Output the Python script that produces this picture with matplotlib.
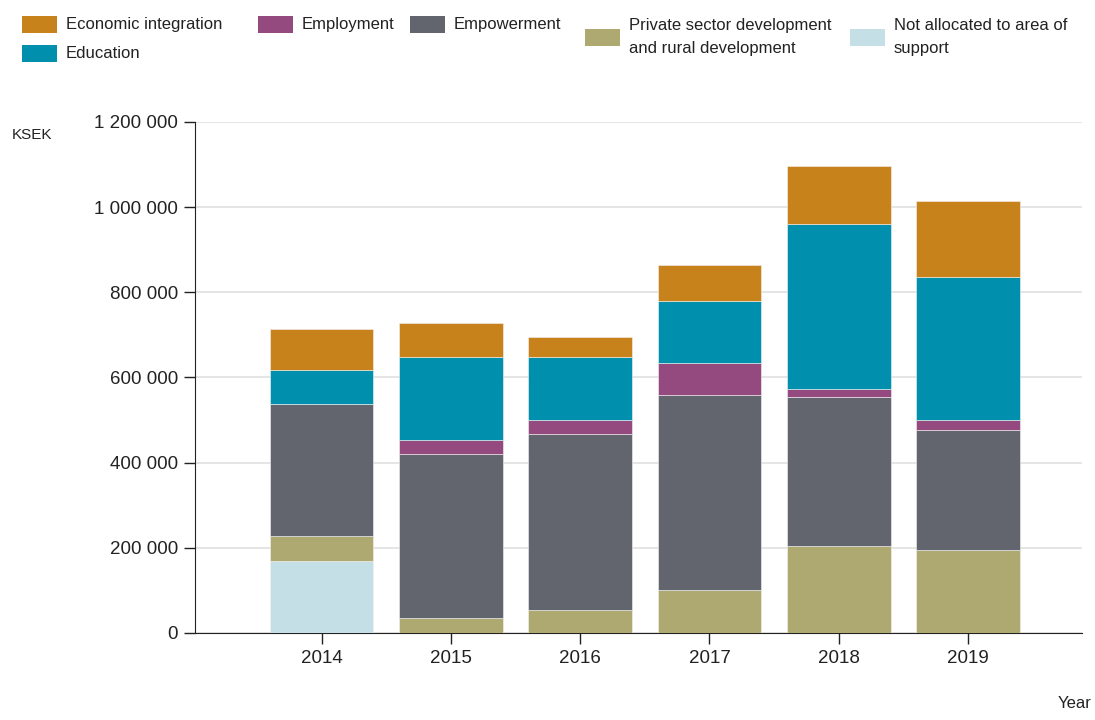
import matplotlib
matplotlib.use('Agg')
import matplotlib.pyplot as plt
from matplotlib.ticker import FuncFormatter, FixedLocator
from matplotlib.patches import Rectangle
import numpy as np

plt.rcParams['font.family'] = ['Liberation Sans', 'DejaVu Sans']

years = ['2014', '2015', '2016', '2017', '2018', '2019']

# values in KSEK, stacked bottom to top
not_allocated = [170000, 0, 0, 0, 0, 0]
private_rural = [57000, 35000, 53000, 100000, 204000, 194000]
empowerment = [311000, 385000, 415000, 458000, 349000, 283000]
employment = [0, 33000, 33000, 75000, 19000, 24000]
education = [80000, 194000, 146000, 146000, 388000, 335000]
economic = [96000, 81000, 47000, 85000, 137000, 179000]

series = [
    ('Not allocated to area of\nsupport', not_allocated, '#C5DFE6'),
    ('Private sector development\nand rural development', private_rural, '#AEA970'),
    ('Empowerment', empowerment, '#62656D'),
    ('Employment', employment, '#944A7E'),
    ('Education', education, '#0090AE'),
    ('Economic integration', economic, '#C8821C'),
]

W, H = 1095, 720
fig = plt.figure(figsize=(W / 100, H / 100), dpi=100)
ax = fig.add_axes([0.178, 0.121, 0.81, 0.7096])

x = np.arange(len(years))
bottom = np.zeros(len(years))
colors = {}
for name, vals, col in series:
    vals = np.array(vals, dtype=float)
    ax.bar(x, vals, width=0.8, bottom=bottom, color=col, edgecolor='#f4f4f4',
           linewidth=0.4, zorder=3)
    bottom += vals
    colors[name] = col

ax.set_xlim(-0.98, 5.88)
ax.set_ylim(0, 1200000)
ax.yaxis.set_major_locator(FixedLocator(np.arange(0, 1200001, 200000)))
ax.yaxis.set_major_formatter(FuncFormatter(lambda v, p: '{:,.0f}'.format(v).replace(',', ' ')))
ax.set_xticks(x)
ax.set_xticklabels(years)

ax.grid(axis='y', color='#e0e0e0', linewidth=1.2, zorder=0)
for s in ['top', 'right']:
    ax.spines[s].set_visible(False)
ax.spines['left'].set_color('#222222')
ax.spines['bottom'].set_color('#222222')
ax.tick_params(axis='both', length=8, width=1, color='#222222', labelsize=13.5,
               labelcolor='#222222', pad=4)

fig.text(0.011, 0.812, 'KSEK', fontsize=11, color='#222222', va='center')
fig.text(0.966, 0.012, 'Year', fontsize=12, color='#222222', va='bottom')

# legend laid out by hand (flow layout like the original)
# (label, swatch left px, swatch top px, text centre px)
legend_items = [
    ('Economic integration', 22, 16, 25),
    ('Education', 22, 45, 54),
    ('Employment', 258, 16, 25),
    ('Empowerment', 410, 16, 25),
    ('Private sector development\nand rural development', 585, 29, 37),
    ('Not allocated to area of\nsupport', 850, 29, 37),
]
for label, sx, sy, ty in legend_items:
    fig.patches.append(Rectangle((sx / W, 1 - (sy + 17) / H), 35 / W, 17 / H,
                                 transform=fig.transFigure, facecolor=colors[label],
                                 edgecolor='none'))
    t = fig.text((sx + 44) / W, 1 - ty / H, label, fontsize=12, color='#222222',
                 va='center', ha='left')
    t.set_linespacing(1.65)

fig.savefig('out.png', dpi=100)
